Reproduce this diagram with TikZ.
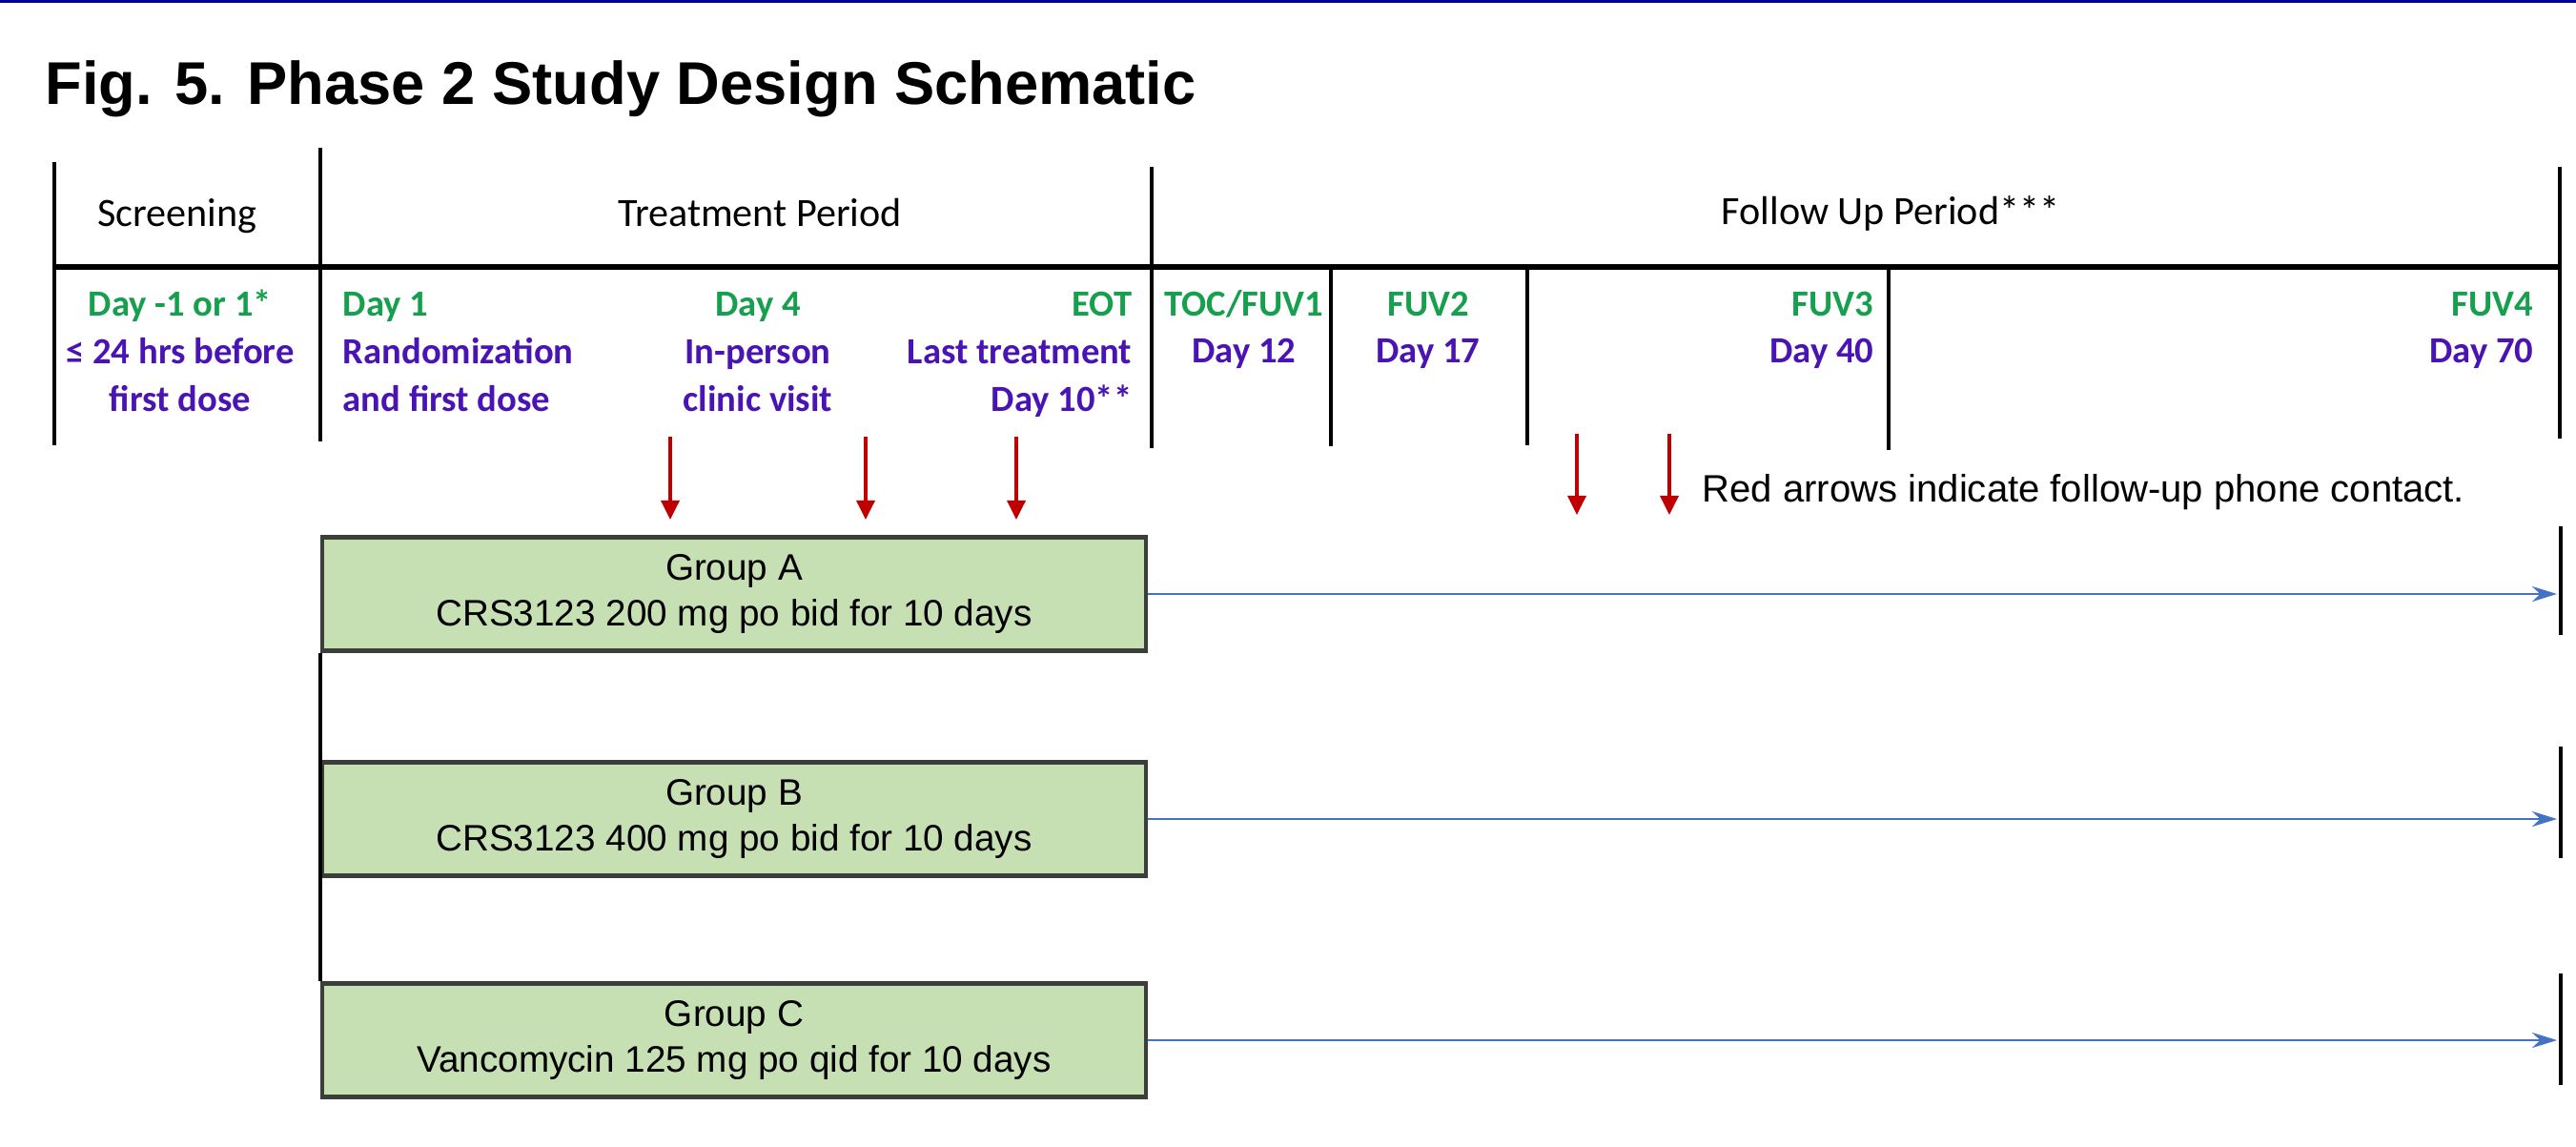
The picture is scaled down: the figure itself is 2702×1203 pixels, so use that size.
\documentclass[tikz,border=0pt]{standalone}
\usepackage{fontspec}
\setmainfont{Liberation Sans}
\newfontfamily\calib{Carlito}
\usetikzlibrary{arrows.meta}
\definecolor{topblue}{HTML}{00009A}
\definecolor{daygreen}{HTML}{16A04E}
\definecolor{daypurple}{HTML}{4A14B4}
\definecolor{boxfill}{HTML}{C6E0B4}
\definecolor{boxline}{HTML}{3A3F3A}
\definecolor{armblue}{HTML}{4472C4}
\definecolor{phonered}{HTML}{C00000}
\tikzstyle{hdrtext} = [
    font=\calib\fontsize{12}{14}\selectfont,
    inner sep=0pt
    ]
\tikzstyle{dayg} = [
    font=\calib\bfseries\fontsize{11}{14}\selectfont,
    text=daygreen,
    inner sep=0pt
    ]
\tikzstyle{dayp} = [
    dayg,
    text=daypurple
    ]
\tikzstyle{grpbox} = [
    draw=boxline,
    fill=boxfill,
    line width=1.3pt,
    rectangle,
    minimum width=86.4mm,
    minimum height=11.9mm,
    align=center,
    font=\fontsize{11}{13.7}\selectfont
    ]
\tikzstyle{armarrow} = [
    draw=armblue,
    line width=0.8pt,
    -{Stealth[length=2.6mm,width=1.6mm]}
    ]
\tikzstyle{phonearrow} = [
    draw=phonered,
    line width=1pt,
    -{Triangle[length=2mm,width=1.9mm]}
    ]
\tikzstyle{rule} = [
    line width=1.1pt
    ]

\begin{document}
\begin{tikzpicture}[x=0.1mm, y=-0.1mm]
\useasboundingbox (0,0) rectangle (2702,1203);
\fill[topblue] (0,0) rectangle (2702,3);

% title
\node[anchor=base west, inner sep=0pt, font=\fontsize{18}{22}\selectfont\bfseries] (title) at (47,110) {Fig. 5. Phase 2 Study Design Schematic};

% header grid
\draw[rule] (57,170) -- (57,467);
\draw[rule] (336,155) -- (336,463);
\draw[rule] (1208,175) -- (1208,470);
\draw[rule] (2685,175) -- (2685,460);
\draw[line width=1.7pt] (57,280) -- (2685,280);
\draw[rule] (1396,280) -- (1396,468);
\draw[rule] (1602,280) -- (1602,467);
\draw[rule] (1981,280) -- (1981,472);

\node[hdrtext, anchor=base] (scrhd) at (186,238) {Screening};
\node[hdrtext, anchor=base] (trthd) at (797,238) {Treatment Period};
\node[hdrtext, anchor=base] (fuphd) at (1983,236) {Follow Up Period***};

% visit labels
\node[dayg, anchor=base] (scr1) at (189,332) {Day -1 or 1*};
\node[dayp, anchor=base] (scr2) at (189,382) {≤ 24 hrs before};
\node[dayp, anchor=base] (scr3) at (189,432) {first dose};

\node[dayg, anchor=base west] (dayone1) at (359,332) {Day 1};
\node[dayp, anchor=base west] (dayone2) at (359,382) {Randomization};
\node[dayp, anchor=base west] (dayone3) at (359,432) {and first dose};

\node[dayg, anchor=base] (dayfour1) at (795,332) {Day 4};
\node[dayp, anchor=base] (dayfour2) at (795,382) {In-person};
\node[dayp, anchor=base] (dayfour3) at (795,432) {clinic visit};

\node[dayg, anchor=base east] (eot1) at (1188,332) {EOT};
\node[dayp, anchor=base east] (eot2) at (1188,382) {Last treatment};
\node[dayp, anchor=base east] (eot3) at (1188,432) {Day 10**};

\node[dayg, anchor=base] (fuvone1) at (1305,332) {TOC/FUV1};
\node[dayp, anchor=base] (fuvone2) at (1305,381) {Day 12};
\node[dayg, anchor=base] (fuvtwo1) at (1498,332) {FUV2};
\node[dayp, anchor=base] (fuvtwo2) at (1498,381) {Day 17};
\node[dayg, anchor=base east] (fuvthree1) at (1966,332) {FUV3};
\node[dayp, anchor=base east] (fuvthree2) at (1966,381) {Day 40};
\node[dayg, anchor=base east] (fuvfour1) at (2658,332) {FUV4};
\node[dayp, anchor=base east] (fuvfour2) at (2658,381) {Day 70};

% phone contacts
\foreach \x in {703,908,1066}
    \draw[phonearrow] (\x,458) -- (\x,545);
\foreach \x in {1654,1751}
    \draw[phonearrow] (\x,455) -- (\x,540);
\node[anchor=base west, inner sep=0pt, font=\fontsize{11.4}{13}\selectfont] (note) at (1785,527) {Red arrows indicate follow-up phone contact.};

% treatment groups
\node[grpbox] (grpA) at (770,623) {Group A\\CRS3123 200 mg po bid for 10 days};
\node[grpbox] (grpB) at (770,859) {Group B\\CRS3123 400 mg po bid for 10 days};
\node[grpbox] (grpC) at (770,1091) {Group C\\Vancomycin 125 mg po qid for 10 days};
\draw[rule] (grpA.south west) -- (grpC.north west);

\coordinate (endA) at (2682,623);
\coordinate (endB) at (2682,859);
\coordinate (endC) at (2682,1091);
\draw[armarrow] (grpA.east) -- (endA);
\draw[armarrow] (grpB.east) -- (endB);
\draw[armarrow] (grpC.east) -- (endC);
\draw[line width=1.4pt] (2686,552) -- (2686,666);
\draw[line width=1.4pt] (2686,783) -- (2686,900);
\draw[line width=1.4pt] (2686,1021) -- (2686,1138);
\end{tikzpicture}
\end{document}
